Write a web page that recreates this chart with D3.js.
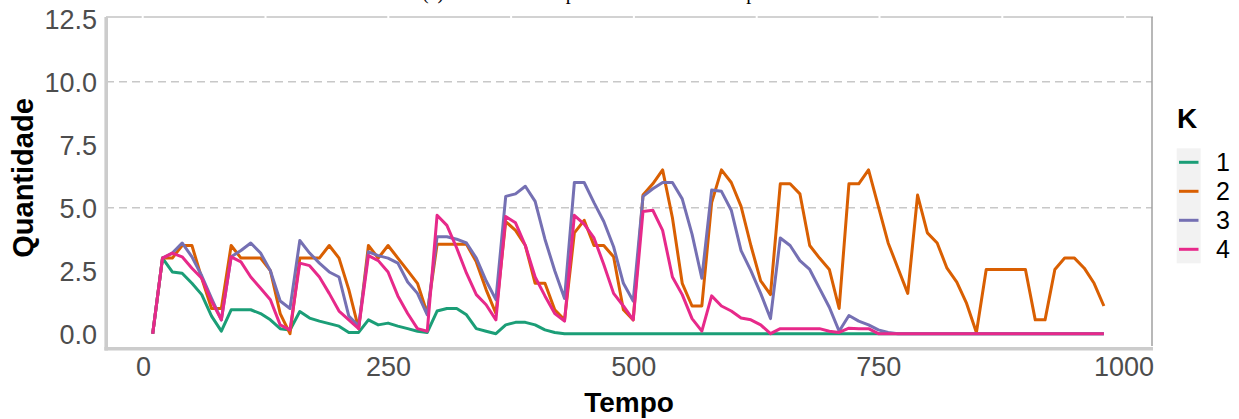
<!DOCTYPE html>
<html>
<head>
<meta charset="utf-8">
<script src="https://cdn.jsdelivr.net/npm/d3@7"></script>
<style>
  html, body { margin: 0; padding: 0; background: #ffffff; }
  svg { display: block; }
</style>
</head>
<body>
<svg id="chart" width="1239" height="419"></svg>
<script>
// Time instants shared by all series
const tempo = [10, 20, 30, 40, 50, 60, 70, 80, 90, 100, 110, 120, 130, 140, 150, 160, 170,
  180, 190, 200, 210, 220, 230, 240, 250, 260, 270, 280, 290, 300, 310, 320, 330, 340,
  350, 360, 370, 380, 390, 400, 410, 420, 430, 440, 450, 460, 470, 480, 490, 500, 510,
  520, 530, 540, 550, 560, 570, 580, 590, 600, 610, 620, 630, 640, 650, 660, 670, 680,
  690, 700, 710, 720, 730, 740, 750, 760, 770, 780, 790, 800, 810, 820, 830, 840, 850,
  860, 870, 880, 890, 900, 910, 920, 930, 940, 950, 960, 970, 980];

// Quantity over time for each K
const k1 = [0, 3.0, 2.45, 2.4, 2.0, 1.55, 0.7, 0.1, 0.95, 0.95, 0.95, 0.8, 0.55, 0.2, 0.15,
  0.88, 0.62, 0.5, 0.4, 0.3, 0.05, 0.05, 0.55, 0.35, 0.42, 0.3, 0.2, 0.1, 0.05, 0.9, 1.0,
  1.0, 0.75, 0.2, 0.1, 0.0, 0.35, 0.45, 0.45, 0.35, 0.15, 0.05,
  0, 0, 0, 0, 0, 0, 0, 0, 0, 0, 0, 0, 0, 0, 0, 0, 0, 0, 0, 0, 0, 0, 0, 0, 0, 0, 0, 0,
  0, 0, 0, 0, 0, 0, 0, 0, 0, 0, 0, 0, 0, 0, 0, 0, 0, 0, 0, 0, 0, 0, 0, 0, 0, 0, 0, 0];

const k2 = [0, 3.0, 3.0, 3.5, 3.5, 2.2, 1.0, 1.0, 3.5, 3.0, 3.0, 3.0, 2.5, 0.8, 0.0,
  3.0, 3.0, 3.0, 3.5, 3.0, 1.75, 0.2, 3.5, 3.0, 3.5, 3.0, 2.5, 2.0, 0.8, 3.55, 3.55,
  3.55, 3.55, 2.85, 1.75, 0.8, 4.45, 4.1, 3.5, 2.0, 2.0, 0.95, 0.55, 4.0, 4.5, 3.5,
  3.5, 3.05, 0.95, 0.55, 5.5, 5.95, 6.5, 4.6, 2.0, 1.1, 1.1, 5.2, 6.5, 6.0, 5.05, 3.5,
  2.1, 1.55, 5.95, 5.95, 5.55, 3.5, 3.0, 2.55, 1.0, 5.95, 5.95, 6.5, 5.05, 3.6, 2.6,
  1.6, 5.5, 4.0, 3.6, 2.6, 2.05, 1.2, 0.05, 2.55, 2.55, 2.55, 2.55, 2.55, 0.55, 0.55,
  2.55, 3.0, 3.0, 2.6, 2.0, 1.1];

const k3 = [0, 3.0, 3.2, 3.6, 3.05, 2.3, 1.4, 0.55, 3.05, 3.3, 3.6, 3.2, 2.5, 1.3, 1.0,
  3.7, 3.2, 2.8, 2.45, 2.25, 0.7, 0.3, 3.25, 3.1, 3.0, 2.8, 2.05, 1.6, 0.75, 3.85, 3.85,
  3.75, 3.6, 3.0, 2.1, 1.35, 5.45, 5.55, 5.85, 5.25, 3.75, 2.5, 1.4, 6.0, 6.0, 5.2,
  4.45, 3.45, 2.0, 1.3, 5.45, 5.75, 6.0, 6.0, 5.35, 3.95, 2.2, 5.7, 5.65, 4.9, 3.3, 2.5,
  1.6, 0.6, 3.8, 3.5, 2.9, 2.55, 1.8, 1.05, 0.1, 0.72, 0.5, 0.35, 0.15, 0.05,
  0, 0, 0, 0, 0, 0, 0, 0, 0, 0, 0, 0, 0, 0, 0, 0, 0, 0, 0, 0, 0, 0];

const k4 = [0, 3.0, 3.2, 3.05, 2.6, 2.2, 1.3, 0.55, 3.05, 2.85, 2.25, 1.8, 1.35, 0.35, 0.15,
  2.8, 2.7, 2.25, 1.6, 0.9, 0.55, 0.2, 3.1, 2.9, 2.45, 1.5, 0.8, 0.2, 0.1, 4.7, 4.3,
  3.4, 2.4, 1.55, 1.15, 0.55, 4.65, 4.4, 3.5, 2.25, 1.5, 0.8, 0.5, 4.7, 4.35, 3.8,
  2.75, 1.6, 1.1, 0.55, 4.85, 4.9, 4.1, 2.25, 1.55, 0.6, 0.1, 1.5, 1.1, 0.9, 0.62, 0.55,
  0.35, 0.0, 0.2, 0.2, 0.2, 0.2, 0.2, 0.1, 0.05, 0.22, 0.2, 0.2, 0.0,
  0, 0, 0, 0, 0, 0, 0, 0, 0, 0, 0, 0, 0, 0, 0, 0, 0, 0, 0, 0, 0, 0, 0];

const grupos = ["1", "2", "3", "4"];
const series = [k1, k2, k3, k4];
const cores = ["#1B9E77", "#D95F02", "#7570B3", "#E7298A"];

const xTicks = [0, 250, 500, 750, 1000];
const yTicks = [0, 2.5, 5, 7.5, 10, 12.5];
const yGrid = [5, 10];

const titulo = "(a) Clientes em espera na fila a cada tempo";
const xTitulo = "Tempo";
const yTitulo = "Quantidade";
const legendaTitulo = "K";

// ---- layout ----
const svg = d3.select("#chart");
const panel = { left: 106, right: 1152, top: 17, bottom: 348 };

const x = d3.scaleLinear().domain([0, 1000]).range([142.9, 1123.5]);
const y = d3.scaleLinear().domain([0, 12.5]).range([333.7, 18.7]);

const sans = "'Liberation Sans', Arial, Helvetica, sans-serif";

// title (runs off the top edge of the canvas)
svg.append("text")
  .attr("x", 422).attr("y", -1)
  .attr("font-family", "'Liberation Serif', 'Times New Roman', serif")
  .attr("font-size", 20)
  .attr("fill", "#000")
  .text(titulo);

// dashed horizontal gridlines
svg.append("g").selectAll("line").data(yGrid).join("line")
  .attr("x1", panel.left).attr("x2", panel.right)
  .attr("y1", d => y(d)).attr("y2", d => y(d))
  .attr("stroke", "#c8c8c8").attr("stroke-width", 1.4)
  .attr("stroke-dasharray", "8,5");

// top and right frame
svg.append("line")
  .attr("x1", panel.left).attr("x2", panel.right + 1)
  .attr("y1", panel.top).attr("y2", panel.top)
  .attr("stroke", "#c4c4c4").attr("stroke-width", 1.5)
  .attr("stroke-dasharray", "120.8,2").attr("stroke-dashoffset", 85.1);
svg.append("line")
  .attr("x1", panel.right).attr("x2", panel.right)
  .attr("y1", panel.top).attr("y2", 346)
  .attr("stroke", "#a0a0a0").attr("stroke-width", 1.5);

// series lines
const line = d3.line()
  .x((d, i) => x(tempo[i]))
  .y(d => y(d));

svg.append("g").selectAll("path").data(series).join("path")
  .attr("d", d => line(d))
  .attr("fill", "none")
  .attr("stroke", (d, i) => cores[i])
  .attr("stroke-width", 3)
  .attr("stroke-linejoin", "round")
  .attr("stroke-linecap", "butt");

// axis lines (thick grey)
svg.append("line")
  .attr("x1", 106.2).attr("x2", 106.2)
  .attr("y1", 17).attr("y2", 350.5)
  .attr("stroke", "#cccccc").attr("stroke-width", 3.6);
svg.append("line")
  .attr("x1", 104.4).attr("x2", 1153)
  .attr("y1", 348.7).attr("y2", 348.7)
  .attr("stroke", "#cccccc").attr("stroke-width", 3.6);

// axes through d3 generators (tick marks hidden, only labels shown)
const xAxis = svg.append("g")
  .attr("transform", "translate(0,357)")
  .call(d3.axisBottom(x).tickValues(xTicks).tickSize(0).tickPadding(0).tickFormat(d3.format("d")));
xAxis.select(".domain").remove();
xAxis.selectAll("text")
  .attr("font-family", sans).attr("font-size", 27)
  .attr("fill", "#4d4d4d").attr("dy", "0.71em");

const yAxis = svg.append("g")
  .attr("transform", "translate(97,0)")
  .call(d3.axisLeft(y).tickValues(yTicks).tickSize(0).tickPadding(0).tickFormat(d3.format(".1f")));
yAxis.select(".domain").remove();
yAxis.selectAll("text")
  .attr("font-family", sans).attr("font-size", 27)
  .attr("fill", "#4d4d4d").attr("dy", "0.36em");

// axis titles
svg.append("text")
  .attr("x", 629).attr("y", 412)
  .attr("text-anchor", "middle")
  .attr("font-family", sans).attr("font-size", 28).attr("font-weight", "bold")
  .attr("fill", "#000")
  .text(xTitulo);

svg.append("text")
  .attr("transform", "translate(33,178) rotate(-90)")
  .attr("text-anchor", "middle")
  .attr("font-family", sans).attr("font-size", 29).attr("font-weight", "bold")
  .attr("fill", "#000")
  .text(yTitulo);

// legend
const legend = svg.append("g");
legend.append("text")
  .attr("x", 1177).attr("y", 128)
  .attr("font-family", sans).attr("font-size", 28).attr("font-weight", "bold")
  .attr("fill", "#000")
  .text(legendaTitulo);

legend.append("rect")
  .attr("x", 1176.7).attr("y", 148.3)
  .attr("width", 24).attr("height", 115)
  .attr("fill", "#f2f2f2");

const keyY = d3.scalePoint().domain(grupos).range([162.3, 249.3]);

legend.selectAll("line.key").data(grupos).join("line")
  .attr("class", "key")
  .attr("x1", 1179).attr("x2", 1198.5)
  .attr("y1", d => keyY(d)).attr("y2", d => keyY(d))
  .attr("stroke", (d, i) => cores[i]).attr("stroke-width", 3);

legend.selectAll("text.lab").data(grupos).join("text")
  .attr("class", "lab")
  .attr("x", 1216).attr("y", d => keyY(d))
  .attr("dy", "0.36em")
  .attr("font-family", sans).attr("font-size", 25)
  .attr("fill", "#000")
  .text(d => d);
</script>
</body>
</html>
